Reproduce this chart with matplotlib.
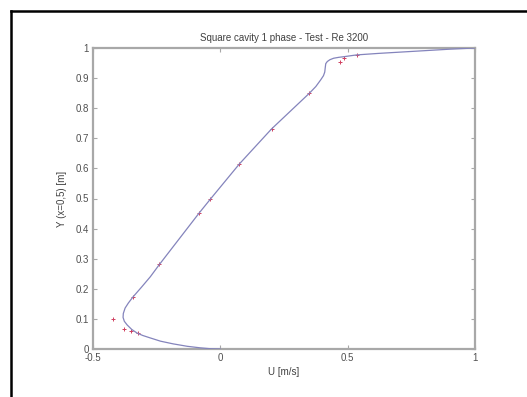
import numpy as np
import matplotlib
matplotlib.use("Agg")
import matplotlib.pyplot as plt
from matplotlib.lines import Line2D

# Computed u-velocity profile along the vertical centreline (x = 0.5)
u_line = [0.0, -0.04, -0.08, -0.13, -0.185, -0.235, -0.276, -0.305, -0.327,
          -0.348, -0.366, -0.377, -0.382, -0.381, -0.374, -0.361, -0.343,
          -0.31, -0.275, -0.24, -0.083, -0.039, 0.075, 0.201, 0.35, 0.375,
          0.394, 0.405, 0.41, 0.412, 0.414, 0.42, 0.43, 0.445, 0.465, 0.484,
          0.535, 0.62, 0.70, 0.80, 0.90, 1.0]
y_line = [0.0, 0.001, 0.004, 0.009, 0.017, 0.026, 0.037, 0.045, 0.053,
          0.065, 0.080, 0.092, 0.105, 0.118, 0.136, 0.153, 0.173,
          0.205, 0.240, 0.280, 0.452, 0.498, 0.615, 0.731, 0.850, 0.872,
          0.894, 0.908, 0.920, 0.935, 0.948, 0.955, 0.961, 0.966, 0.969, 0.971,
          0.977, 0.982, 0.986, 0.991, 0.996, 1.0]

# Reference (benchmark) values
u_ref = [-0.323, -0.35, -0.378, -0.421, -0.343, -0.24, -0.083, -0.039,
         0.075, 0.201, 0.35, 0.469, 0.484, 0.535]
y_ref = [0.053, 0.060, 0.066, 0.100, 0.173, 0.282, 0.452, 0.498,
         0.615, 0.731, 0.850, 0.953, 0.967, 0.977]

xticks = [-0.5, 0, 0.5, 1]
xticklabels = ["-0.5", "0", "0.5", "1"]
yticks = [0, 0.1, 0.2, 0.3, 0.4, 0.5, 0.6, 0.7, 0.8, 0.9, 1]
yticklabels = ["0", "0.1", "0.2", "0.3", "0.4", "0.5", "0.6", "0.7", "0.8", "0.9", "1"]

plt.rcParams["font.family"] = ["Liberation Sans", "DejaVu Sans"]

fig = plt.figure(figsize=(5.27, 3.97), dpi=100)
ax = fig.add_axes([0.1765, 0.1209, 0.7248, 0.7582])

ax.plot(u_ref, y_ref, ls="none", marker="+", ms=3, mew=0.7,
        color="#d04060", zorder=2)
ax.plot(u_line, y_line, color="#8484bc", lw=0.9, zorder=3,
        solid_joinstyle="round")

ax.set_xlim(-0.5, 1)
ax.set_ylim(0, 1)
ax.set_xticks(xticks)
ax.set_xticklabels(xticklabels)
ax.set_yticks(yticks)
ax.set_yticklabels(yticklabels)

axis_gray = "#a8a8a8"
text_gray = "#505050"
for s in ax.spines.values():
    s.set_color(axis_gray)
    s.set_linewidth(1.6)
ax.tick_params(direction="in", length=3, width=0.8, color=axis_gray,
               labelsize=7, labelcolor=text_gray, top=True, right=True, pad=3)

ax.set_title("Square cavity 1 phase - Test - Re 3200", fontsize=7,
             color="#404040", pad=5)
ax.set_xlabel("U [m/s]", fontsize=7, color="#404040", labelpad=3)
ax.set_ylabel("Y (x=0,5) [m]", fontsize=7, color="#404040", labelpad=6)

# Black frame on left and top edges
fig.add_artist(Line2D([11 / 527, 11 / 527], [0, 1 - 11 / 397],
                      transform=fig.transFigure, color="black", lw=1.8))
fig.add_artist(Line2D([11 / 527, 1], [1 - 11 / 397, 1 - 11 / 397],
                      transform=fig.transFigure, color="black", lw=1.8))

fig.savefig("out.png", dpi=100)
